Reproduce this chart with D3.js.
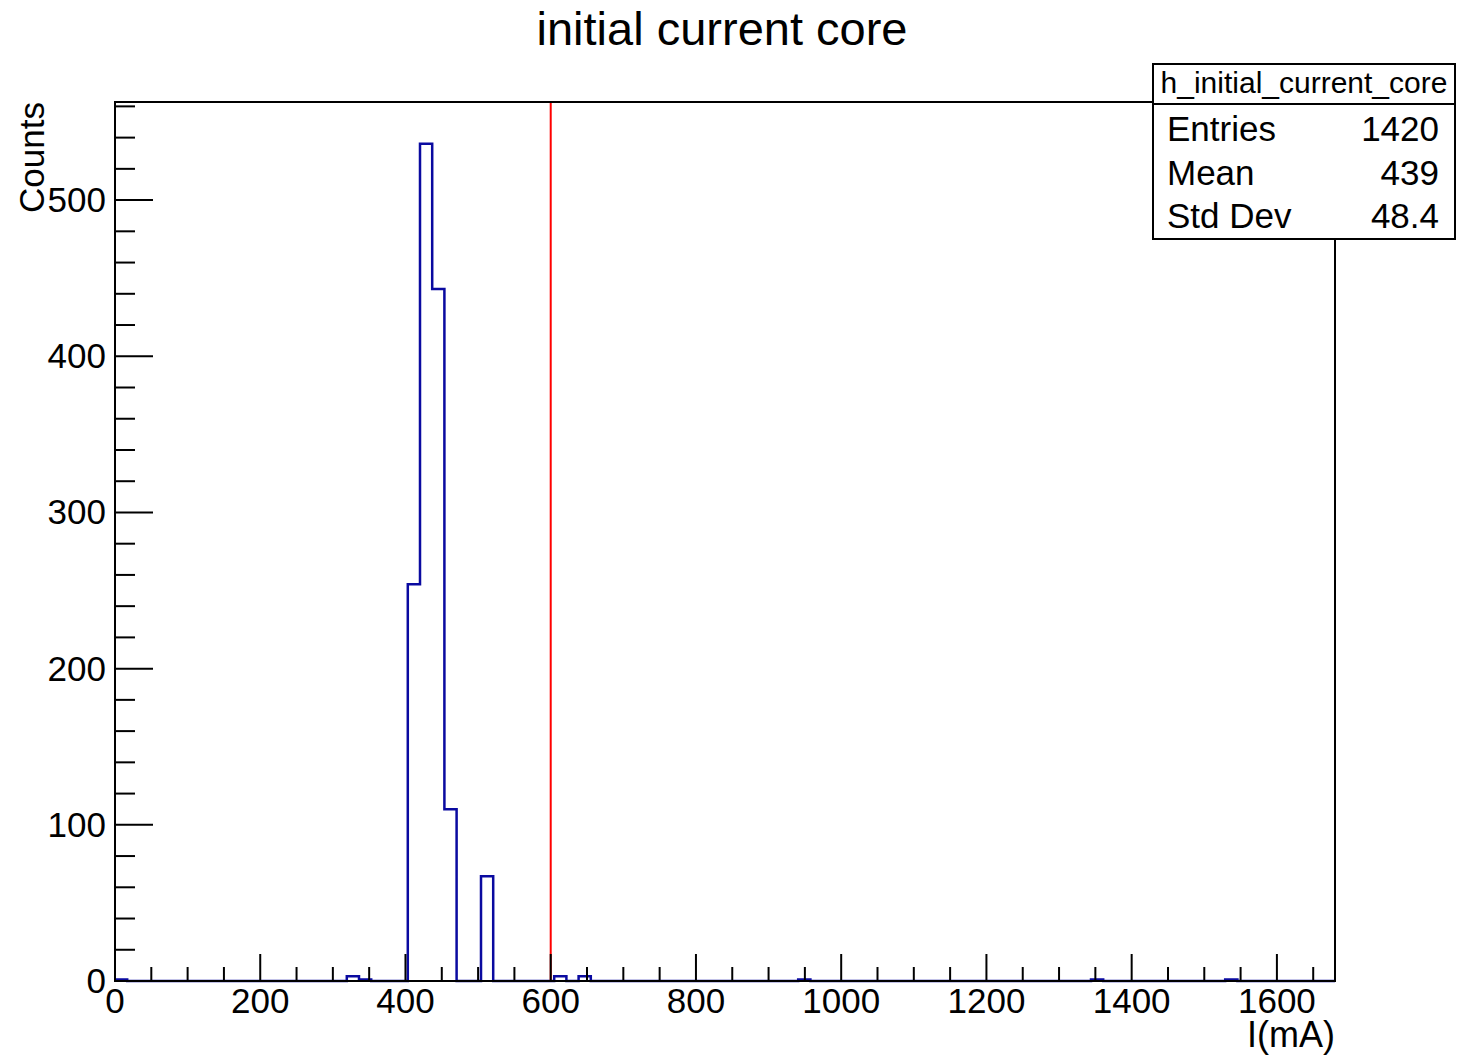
<!DOCTYPE html>
<html>
<head>
<meta charset="utf-8">
<script src="https://cdn.jsdelivr.net/npm/d3@7"></script>
<style>
  body { margin: 0; background: #fff; }
  text { font-family: "Liberation Sans", Arial, Helvetica, sans-serif; }
</style>
</head>
<body>
<svg width="1461" height="1063"></svg>
<script>
// histogram: 100 bins of 16.8 mA from 0 to 1680, only non-empty bins listed
const nBins = 100;
const binWidth = 16.8;
const binIndex = [0, 19, 20, 24, 25, 26, 27, 30, 36, 38, 56, 80, 91];
const binCounts = [1, 3, 1, 254, 536, 443, 110, 67, 3, 3, 1, 1, 1];
const cutValue = 600;

const statNames = ['Entries', 'Mean', 'Std Dev'];
const statValues = ['1420', '439', '48.4'];

const xTicksMajor = [0, 200, 400, 600, 800, 1000, 1200, 1400, 1600];
const yTicksMajor = [0, 100, 200, 300, 400, 500];

const svg = d3.select('svg');
const padL = 115, padR = 1335, padT = 102, padB = 981;

const x = d3.scaleLinear().domain([0, nBins * binWidth]).range([padL, padR]);
const y = d3.scaleLinear().domain([0, d3.max(binCounts) * 1.05]).range([padB, padT]);

// full bin contents
const counts = new Array(nBins).fill(0);
binIndex.forEach((b, i) => { counts[b] = binCounts[i]; });
const steps = counts.map((c, i) => [i * binWidth, c]);
steps.push([nBins * binWidth, 0]);

svg.append('path')
  .datum(steps)
  .attr('fill', 'none')
  .attr('stroke', '#0a0aa0')
  .attr('stroke-width', 2.5)
  .attr('d', d3.line().x(d => x(d[0])).y(d => y(d[1])).curve(d3.curveStepAfter));

// cut line
svg.append('line')
  .attr('x1', x(cutValue)).attr('x2', x(cutValue))
  .attr('y1', padT).attr('y2', padB)
  .attr('stroke', '#ff0000')
  .attr('stroke-width', 2);

// frame
svg.append('rect')
  .attr('x', padL).attr('y', padT)
  .attr('width', padR - padL).attr('height', padB - padT)
  .attr('fill', 'none')
  .attr('stroke', '#000')
  .attr('stroke-width', 2);

// x ticks (inside, pointing up)
const xMinor = d3.range(0, 1680, 50);
svg.selectAll('.xtick')
  .data(xMinor)
  .enter()
  .append('line')
  .attr('class', 'xtick')
  .attr('x1', d => x(d)).attr('x2', d => x(d))
  .attr('y1', padB)
  .attr('y2', d => padB - (d % 200 === 0 ? 27 : 14))
  .attr('stroke', '#000')
  .attr('stroke-width', 2);

svg.selectAll('.xlab')
  .data(xTicksMajor)
  .enter()
  .append('text')
  .attr('class', 'xlab')
  .attr('x', d => x(d))
  .attr('y', 1013)
  .attr('text-anchor', 'middle')
  .attr('font-size', 35)
  .text(d => d);

// y ticks (inside, pointing right)
const yMinor = d3.range(0, 561, 20);
svg.selectAll('.ytick')
  .data(yMinor)
  .enter()
  .append('line')
  .attr('class', 'ytick')
  .attr('y1', d => y(d)).attr('y2', d => y(d))
  .attr('x1', padL)
  .attr('x2', d => padL + (d % 100 === 0 ? 38 : 20))
  .attr('stroke', '#000')
  .attr('stroke-width', 2);

svg.selectAll('.ylab')
  .data(yTicksMajor)
  .enter()
  .append('text')
  .attr('class', 'ylab')
  .attr('x', 106)
  .attr('y', d => y(d) + 12)
  .attr('text-anchor', 'end')
  .attr('font-size', 35)
  .text(d => d);

// axis titles
svg.append('text')
  .attr('x', padR)
  .attr('y', 1047)
  .attr('text-anchor', 'end')
  .attr('font-size', 36)
  .text('I(mA)');

svg.append('text')
  .attr('transform', `translate(44, ${padT}) rotate(-90)`)
  .attr('text-anchor', 'end')
  .attr('font-size', 35)
  .text('Counts');

// title
svg.append('text')
  .attr('x', 722)
  .attr('y', 45)
  .attr('text-anchor', 'middle')
  .attr('font-size', 47)
  .text('initial current core');

// stats box
const box = svg.append('g');
box.append('rect')
  .attr('x', 1153).attr('y', 64)
  .attr('width', 302).attr('height', 175)
  .attr('fill', '#fff')
  .attr('stroke', '#000')
  .attr('stroke-width', 2);
box.append('line')
  .attr('x1', 1153).attr('x2', 1455)
  .attr('y1', 104).attr('y2', 104)
  .attr('stroke', '#000')
  .attr('stroke-width', 2);
box.append('text')
  .attr('x', 1304)
  .attr('y', 93)
  .attr('text-anchor', 'middle')
  .attr('font-size', 30)
  .text('h_initial_current_core');

box.selectAll('.sname')
  .data(statNames)
  .enter()
  .append('text')
  .attr('class', 'sname')
  .attr('x', 1167)
  .attr('y', (d, i) => 141 + i * 43.5)
  .attr('font-size', 35)
  .text(d => d);

box.selectAll('.sval')
  .data(statValues)
  .enter()
  .append('text')
  .attr('class', 'sval')
  .attr('x', 1439)
  .attr('y', (d, i) => 141 + i * 43.5)
  .attr('text-anchor', 'end')
  .attr('font-size', 35)
  .text(d => d);
</script>
</body>
</html>
